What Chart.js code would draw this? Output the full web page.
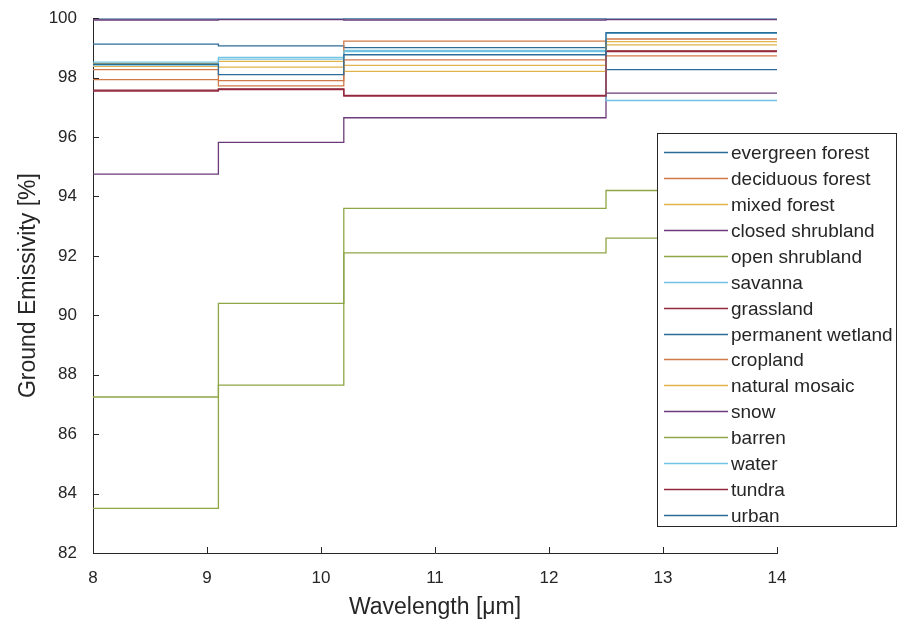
<!DOCTYPE html>
<html>
<head>
<meta charset="utf-8">
<script src="https://cdn.jsdelivr.net/npm/chart.js@4.4.1/dist/chart.umd.min.js"></script>
<style>
  html, body { margin: 0; padding: 0; background: #ffffff; }
  canvas { display: block; }
</style>
</head>
<body>
<canvas id="chart" width="899" height="624"></canvas>
<script>
// Band edges of the four spectral intervals [µm]
const bandEdges = [8, 9.1, 10.2, 12.5, 14];

// Ground emissivity [%] per band (8–9.1, 9.1–10.2, 10.2–12.5, 12.5–14)
const evergreenForest   = [99.98, 99.98, 99.99, 99.98];
const deciduousForest   = [98.27, 97.90, 98.60, 99.30];
const mixedForest       = [98.47, 98.55, 98.41, 99.21];
const closedShrubland   = [94.75, 95.82, 96.65, 97.48];
const openShrubland     = [87.25, 90.40, 93.60, 94.20];
const savanna           = [98.52, 98.68, 98.92, 99.49];
const grassland         = [97.58, 97.60, 97.40, 98.90];
const permanentWetland  = [99.13, 99.07, 99.01, 98.27];
const cropland          = [97.93, 97.72, 99.23, 98.73];
const naturalMosaic     = [98.38, 98.35, 98.21, 99.10];
const snow              = [99.94, 99.95, 99.94, 99.95];
const barren            = [83.50, 87.65, 92.10, 92.60];
const water             = [98.42, 98.62, 98.88, 97.23];
const tundra            = [97.55, 97.62, 97.38, 98.88];
const urban             = [98.45, 98.10, 98.77, 99.51];

const classNames = [
  'evergreen forest', 'deciduous forest', 'mixed forest', 'closed shrubland',
  'open shrubland', 'savanna', 'grassland', 'permanent wetland', 'cropland',
  'natural mosaic', 'snow', 'barren', 'water', 'tundra', 'urban'
];
const classValues = [
  evergreenForest, deciduousForest, mixedForest, closedShrubland,
  openShrubland, savanna, grassland, permanentWetland, cropland,
  naturalMosaic, snow, barren, water, tundra, urban
];

const yTicks = [82, 84, 86, 88, 90, 92, 94, 96, 98, 100];
const xTicks = [8, 9, 10, 11, 12, 13, 14];

// Default line colour cycle (seven colours, repeated)
const colorCycle = ['#2b6c98', '#cf7a48', '#e2b24c', '#6b3a78', '#8ea646', '#72c3e2', '#93283c'];

const INK = '#262626';
const FONT = "'Liberation Sans', Arial, Helvetica, sans-serif";

// stairs: each band value holds until the next edge
function stairs(values) {
  return bandEdges.map((x, i) => ({ x: x, y: values[Math.min(i, values.length - 1)] }));
}

const datasets = classNames.map((name, i) => ({
  label: name,
  data: stairs(classValues[i]),
  borderColor: colorCycle[i % colorCycle.length],
  backgroundColor: colorCycle[i % colorCycle.length],
  borderWidth: 1.3,
  pointRadius: 0,
  stepped: 'before',
  fill: false,
  order: -i
}));

// Short inward tick marks on the left and bottom axes
const inwardTicks = {
  id: 'inwardTicks',
  afterDatasetsDraw(chart) {
    const { ctx, chartArea, scales } = chart;
    ctx.save();
    ctx.strokeStyle = INK;
    ctx.lineWidth = 1;
    scales.y.ticks.forEach(t => {
      const py = Math.round(scales.y.getPixelForValue(t.value)) + 0.5;
      ctx.beginPath();
      ctx.moveTo(chartArea.left, py);
      ctx.lineTo(chartArea.left + 6, py);
      ctx.stroke();
    });
    scales.x.ticks.forEach(t => {
      const px = Math.round(scales.x.getPixelForValue(t.value)) + 0.5;
      ctx.beginPath();
      ctx.moveTo(px, chartArea.bottom);
      ctx.lineTo(px, chartArea.bottom - 6);
      ctx.stroke();
    });
    ctx.restore();
  }
};

// Boxed legend sitting over the lower right of the plot
const boxLegend = {
  id: 'boxLegend',
  afterDraw(chart) {
    const { ctx, chartArea } = chart;
    const x0 = chartArea.right - 120;
    const y0 = 133;
    const w = 240, h = 394;
    const rowH = 25.93;
    ctx.save();
    ctx.fillStyle = '#ffffff';
    ctx.fillRect(x0, y0, w, h);
    ctx.strokeStyle = INK;
    ctx.lineWidth = 1;
    ctx.strokeRect(x0 + 0.5, y0 + 0.5, w - 1, h - 1);
    ctx.font = '19px ' + FONT;
    ctx.textBaseline = 'middle';
    ctx.textAlign = 'left';
    chart.data.datasets.forEach((ds, i) => {
      const cy = Math.round(y0 + 19 + i * rowH) + 0.5;
      ctx.strokeStyle = ds.borderColor;
      ctx.lineWidth = 1.3;
      ctx.beginPath();
      ctx.moveTo(x0 + 7, cy);
      ctx.lineTo(x0 + 71, cy);
      ctx.stroke();
      ctx.fillStyle = INK;
      ctx.fillText(ds.label, x0 + 74, cy + 1);
    });
    ctx.restore();
  }
};

new Chart(document.getElementById('chart'), {
  type: 'line',
  data: { datasets: datasets },
  options: {
    responsive: false,
    animation: false,
    layout: { padding: { top: 14, right: 122, bottom: 0, left: 0 } },
    plugins: {
      legend: { display: false },
      tooltip: { enabled: false }
    },
    scales: {
      x: {
        type: 'linear',
        min: 8, max: 14,
        afterBuildTicks: s => { s.ticks = xTicks.map(v => ({ value: v })); },
        afterFit: s => { s.height = 71; },
        grid: { display: false },
        border: { display: true, color: INK, width: 1 },
        ticks: { color: INK, font: { family: FONT, size: 17 }, padding: 7, maxRotation: 0 },
        title: {
          display: true, text: 'Wavelength [μm]', color: INK,
          font: { family: FONT, size: 23 }, padding: { top: 0, bottom: 3 }
        }
      },
      y: {
        type: 'linear',
        min: 82, max: 100,
        afterBuildTicks: s => { s.ticks = yTicks.map(v => ({ value: v })); },
        afterFit: s => { s.width = 93; },
        grid: { display: false },
        border: { display: true, color: INK, width: 1 },
        ticks: { color: INK, font: { family: FONT, size: 17 }, padding: 8 },
        title: {
          display: true, text: 'Ground Emissivity [%]', color: INK,
          font: { family: FONT, size: 23 }, padding: { top: 15, bottom: 0 }
        }
      }
    }
  },
  plugins: [inwardTicks, boxLegend]
});
</script>
</body>
</html>
